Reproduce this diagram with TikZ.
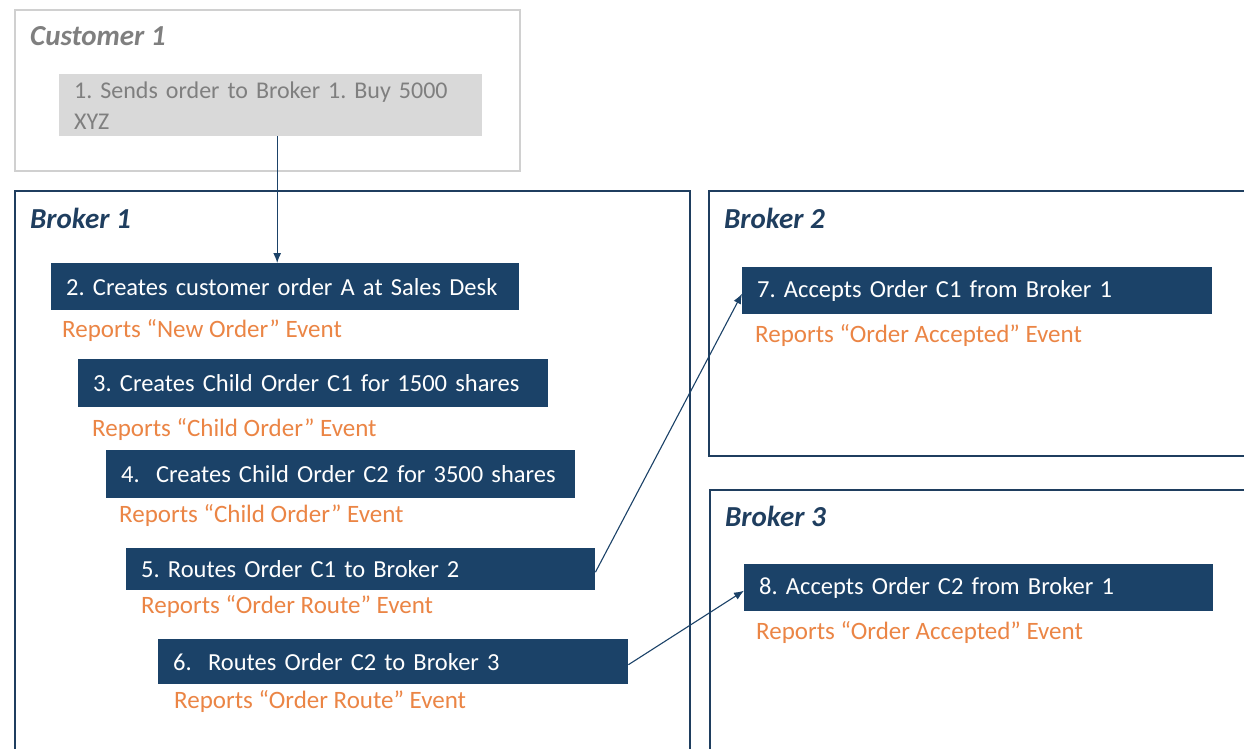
\documentclass[tikz,border=0pt]{standalone}
\usepackage{fontspec}
\setmainfont{Carlito}
\frenchspacing
\usetikzlibrary{arrows.meta,calc}
\definecolor{navy}{HTML}{1B4268}
\definecolor{frameblue}{HTML}{1F3E5F}
\definecolor{evorange}{HTML}{EB8545}
\definecolor{custgray}{HTML}{7F7F7F}
\definecolor{custfill}{HTML}{D9D9D9}
\definecolor{custframe}{HTML}{D0D0D0}
\begin{document}
\begin{tikzpicture}[x=1pt,y=-1pt,
  stepbox/.style={fill=navy,text=white,anchor=north west,inner xsep=15pt,inner ysep=0pt,
    font=\fontsize{24.5}{28}\selectfont\frenchspacing,align=left},
  custbox/.style={fill=custfill,text=custgray,anchor=north west,inner xsep=15pt,inner ysep=0pt,
    font=\fontsize{24}{31}\selectfont\frenchspacing,align=left},
  frame/.style={draw=frameblue,line width=2pt,anchor=north west,inner sep=0pt},
  custframe/.style={draw=custframe,line width=2pt,anchor=north west,inner sep=0pt},
  title/.style={anchor=west,inner sep=0pt,font=\fontsize{29}{33}\selectfont\bfseries\itshape,text=frameblue},
  event/.style={anchor=west,inner sep=0pt,font=\fontsize{25}{29}\selectfont,text=evorange},
  arr/.style={draw=navy,line width=1.1pt,-{Latex[length=10pt,width=8pt]}}]
\useasboundingbox (0,0) rectangle (1244,749);
\clip (0,0) rectangle (1244,749);
\fill[white] (0,0) rectangle (1244,749);
% frames
\node[custframe,minimum width=505pt,minimum height=161pt] (cust) at (14,9) {};
\node[frame,minimum width=675pt,minimum height=600pt] (b1) at (14,190) {};
\node[frame,minimum width=560pt,minimum height=265pt] (b2) at (708,190) {};
\node[frame,minimum width=560pt,minimum height=300pt] (b3) at (709,489) {};
% titles
\node[title,text=custgray] (tc) at (30,36) {Customer 1};
\node[title] (t1) at (30,218) {Broker 1};
\node[title] (t2) at (724,218) {Broker 2};
\node[title] (t3) at (725,516) {Broker 3};
% steps
\node[custbox,text width=393pt,minimum height=62pt] (s1) at (59,74) {1. Sends order to Broker 1. Buy 5000\\XYZ};
\node[stepbox,text width=438pt,minimum height=47pt] (s2) at (51,263) {2. Creates customer order A at Sales Desk};
\node[stepbox,text width=440pt,minimum height=48pt] (s3) at (78,359) {3. Creates Child Order C1 for 1500 shares};
\node[stepbox,text width=439pt,minimum height=48pt] (s4) at (106,450) {4.\ \ Creates Child Order C2 for 3500 shares};
\node[stepbox,text width=439pt,minimum height=42pt] (s5) at (126,548) {5. Routes Order C1 to Broker 2};
\node[stepbox,text width=440pt,minimum height=45pt] (s6) at (158,639) {6.\ \ Routes Order C2 to Broker 3};
\node[stepbox,text width=440pt,minimum height=47pt] (s7) at (742,267) {7. Accepts Order C1 from Broker 1};
\node[stepbox,text width=439pt,minimum height=47pt] (s8) at (744,564) {8. Accepts Order C2 from Broker 1};
% events
\node[event] (e2) at (62,330) {Reports “New Order” Event};
\node[event] (e3) at (92,429) {Reports “Child Order” Event};
\node[event] (e4) at (119,515) {Reports “Child Order” Event};
\node[event] (e5) at (141,606) {Reports “Order Route” Event};
\node[event] (e6) at (174,701) {Reports “Order Route” Event};
\node[event] (e7) at (755,335) {Reports “Order Accepted” Event};
\node[event] (e8) at (756,632) {Reports “Order Accepted” Event};
% connectors
\draw[arr] ([xshift=6.5pt]s1.south) -- ([xshift=6.5pt]s1.south |- s2.north);
\draw[arr] ([yshift=-3pt]s5.east) -- ([yshift=-3pt]s7.west);
\draw[arr] ([yshift=-3pt]s6.east) -- ([yshift=-3pt]s8.west);
\end{tikzpicture}
\end{document}
